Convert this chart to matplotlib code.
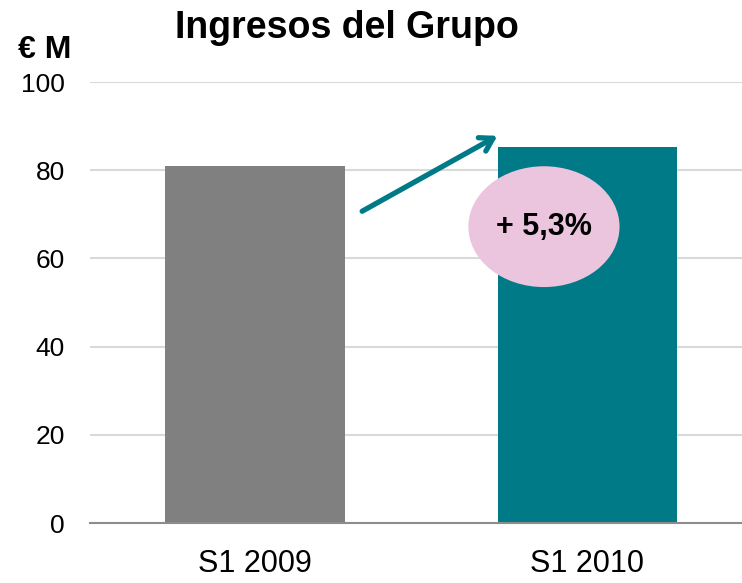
import matplotlib.pyplot as plt
from matplotlib.patches import Ellipse

categories = ['S1 2009', 'S1 2010']
ingresos = [81.0, 85.2]
bar_colours = ['#808080', '#007A87']
growth_label = '+ 5,3%'
y_ticks = [0, 20, 40, 60, 80, 100]

plt.rcParams['font.family'] = ['Liberation Sans', 'DejaVu Sans']

fig = plt.figure(figsize=(7.42, 5.83), dpi=100)
ax = fig.add_axes([0.1213, 0.1029, 0.8787, 0.7564])

x = range(len(categories))
ax.bar(x, ingresos, width=0.54, color=bar_colours, zorder=2)

ax.set_ylim(0, 100)
ax.set_xlim(-0.497, 1.465)
ax.set_yticks(y_ticks)
ax.set_yticklabels([str(t) for t in y_ticks], fontsize=19)
ax.set_xticks(list(x))
ax.set_xticklabels(categories, fontsize=22)
ax.tick_params(axis='both', length=0)
ax.tick_params(axis='y', pad=18)
ax.tick_params(axis='x', pad=19)

# grid + spines
ax.grid(axis='y', color='#D9D9D9', lw=1.5, zorder=0)
for s in ['top', 'right', 'left']:
    ax.spines[s].set_visible(False)
ax.spines['bottom'].set_color('#8C8C8C')
ax.spines['bottom'].set_linewidth(1.5)
ax.spines['bottom'].set_zorder(3)

# growth arrow and bubble
ax.annotate('', xy=(0.729, 87.8), xytext=(0.322, 70.7),
            arrowprops=dict(arrowstyle='->,head_length=0.9,head_width=0.55',
                            color='#007A87', lw=3.8, shrinkA=0, shrinkB=0),
            zorder=4)
ax.add_patch(Ellipse((0.869, 67.2), 0.455, 27.4, facecolor='#EBC5DE',
                     edgecolor='none', zorder=4))
ax.text(0.869, 67.2, growth_label, ha='center', va='center', fontsize=22,
        fontweight='bold', zorder=5)

fig.text(0.468, 0.952, 'Ingresos del Grupo', ha='center', va='center',
         fontsize=27, fontweight='bold')
fig.text(0.024, 0.915, '€ M', ha='left', va='center', fontsize=23,
         fontweight='bold')

plt.savefig('out.png', dpi=100)
